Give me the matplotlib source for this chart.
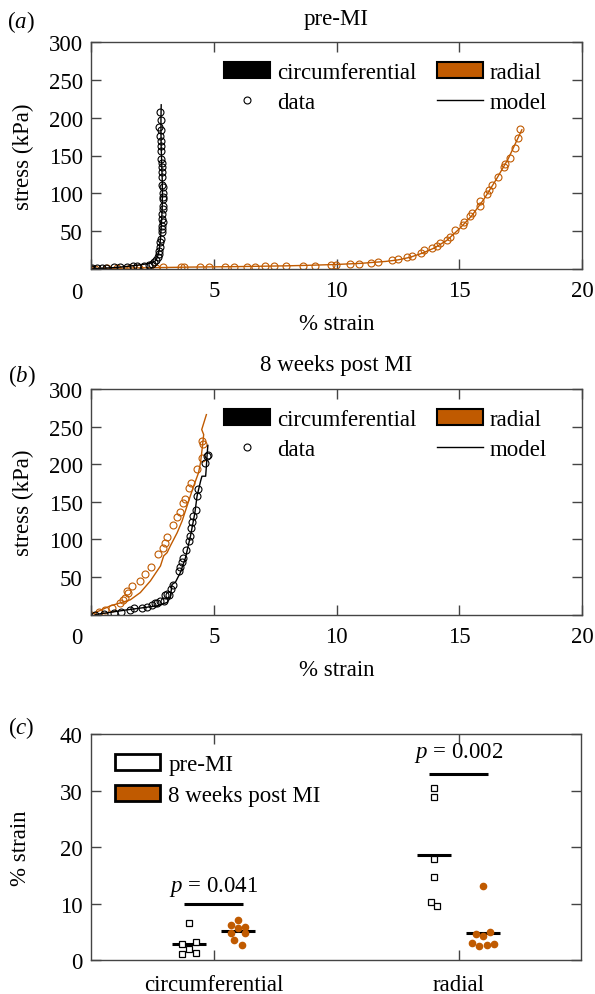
import numpy as np
import matplotlib
matplotlib.use('Agg')
import matplotlib.pyplot as plt
from matplotlib.patches import Patch
from matplotlib.lines import Line2D

plt.rcParams['font.family'] = ['Liberation Serif', 'DejaVu Serif']
plt.rcParams['mathtext.fontset'] = 'custom'
plt.rcParams['mathtext.rm'] = 'Liberation Serif'
plt.rcParams['mathtext.it'] = 'Liberation Serif:italic'
plt.rcParams['font.size'] = 16.5

color_rad = '#C05A00'
color_axis = '#444444'

# (a) pre-MI, circumferential
pre_circ_strain = [0.0, 0.05, 0.25, 0.45, 0.63, 0.95, 1.2, 1.47, 1.7, 1.88, 2.15, 2.35, 2.49,
                   2.58, 2.66, 2.72, 2.76, 2.79, 2.80, 2.83, 2.85, 2.88, 2.89, 2.91, 2.92,
                   2.88, 2.91, 2.92, 2.93, 2.92, 2.95, 2.92, 2.93, 2.89, 2.88, 2.91, 2.91,
                   2.89, 2.87, 2.85, 2.87, 2.84, 2.80, 2.84, 2.77, 2.85, 2.83]
pre_circ_stress = [0.5, 0.9, 1.0, 1.2, 1.8, 2.2, 2.6, 3.1, 3.8, 4.4, 4.6, 5.7, 6.6,
                   8.8, 11.9, 15.4, 19.9, 24.3, 28.7, 35.3, 39.7, 48.5, 52.9, 57.3, 62.6,
                   66.2, 72.8, 79.4, 83.8, 92.6, 94.8, 100.1, 108.1, 111.6, 121.3, 127.9, 134.5,
                   139.8, 145.6, 156.6, 163.2, 169.8, 176.4, 183.1, 187.5, 196.3, 207.3]
pre_circ_model_strain = [0.0, 0.5, 1.0, 1.5, 2.0, 2.4, 2.6, 2.7, 2.78, 2.83, 2.87, 2.9, 2.91,
                         2.9, 2.88, 2.86, 2.85, 2.85, 2.86]
pre_circ_model_stress = [0.0, 1.0, 2.0, 3.5, 5.5, 7.5, 10, 15, 25, 40, 60, 80, 100,
                         120, 140, 160, 180, 200, 217]

# (a) pre-MI, radial
pre_rad_strain = [0.0, 0.15, 0.65, 1.05, 1.6, 1.95, 2.65, 2.95, 3.65, 3.8, 4.45, 4.8, 5.45,
                  5.82, 6.36, 6.67, 7.07, 7.45, 7.96, 8.65, 9.12, 9.78, 9.96, 10.57, 10.91,
                  11.41, 11.68, 12.26, 12.49, 12.87, 13.09, 13.44, 13.55, 13.89, 14.09, 14.23,
                  14.50, 14.63, 14.81, 15.15, 15.20, 15.45, 15.52, 15.83, 15.85, 16.15, 16.20,
                  16.35, 16.56, 16.84, 16.88, 17.06, 17.27, 17.38, 17.49]
pre_rad_stress = [0.5, 0.6, 0.8, 1.0, 1.3, 1.5, 1.8, 2.0, 2.2, 2.2, 2.5, 2.6, 2.8,
                  3.0, 3.1, 3.3, 3.5, 3.8, 4.0, 4.4, 4.4, 5.3, 5.7, 6.2, 6.6,
                  7.9, 8.8, 11.5, 12.8, 15.4, 17.2, 21.2, 24.7, 28.2, 30.9, 34.4,
                  38.8, 42.3, 52.1, 58.2, 61.8, 70.6, 74.5, 83.8, 89.5, 99.3, 105.0,
                  111.6, 122.2, 134.5, 139.0, 146.9, 160.1, 172.9, 184.4]
pre_rad_model_strain = [0, 2, 4, 6, 8, 9, 10, 11, 12, 12.5, 13, 13.5, 14, 14.5, 15, 15.5,
                        16, 16.5, 17, 17.55]
pre_rad_model_stress = [0.5, 1.5, 2.5, 3.2, 4.2, 5.0, 6.0, 7.5, 10, 12, 15.5, 21, 28, 38,
                        53, 70, 92, 118, 146, 184]

# (b) 8 weeks post MI, circumferential
post_circ_strain = [0.18, 0.52, 0.92, 1.24, 1.60, 1.74, 2.08, 2.28, 2.49, 2.60, 2.69, 2.80,
                    2.96, 3.03, 3.10, 3.19, 3.26, 3.32, 3.57, 3.64, 3.71, 3.75, 3.85, 3.98,
                    4.02, 4.06, 4.13, 4.16, 4.27, 4.32, 4.35, 4.63, 4.73, 4.78]
post_circ_stress = [0.0, 0.9, 1.8, 3.5, 6.2, 8.0, 8.8, 10.2, 12.8, 15.9, 15.9, 17.3,
                    18.1, 25.7, 27.9, 25.7, 34.5, 38.9, 58.0, 63.7, 69.9, 75.7, 85.8, 97.8,
                    104.4, 114.6, 123.0, 131.0, 138.9, 157.5, 167.3, 201.8, 211.5, 212.8]
post_circ_model_strain = [0.18, 1.47, 2.69, 3.10, 3.23, 3.30, 3.44, 3.64, 3.85, 4.05, 4.23,
                          4.32, 4.46, 4.52, 4.67, 4.70, 4.73, 4.76]
post_circ_model_stress = [0.0, 6.2, 11.5, 16, 22.6, 40, 43, 55.8, 75.7, 104, 135,
                          157.5, 177, 184, 184, 197, 212.8, 225]

# (b) 8 weeks post MI, radial
post_rad_strain = [0.0, 0.31, 0.58, 0.86, 1.20, 1.30, 1.40, 1.49, 1.47, 1.68, 1.98, 2.21,
                   2.45, 2.72, 2.92, 3.03, 3.10, 3.34, 3.51, 3.64, 3.75, 3.82, 4.00, 4.09,
                   4.32, 4.51, 4.57, 4.53]
post_rad_stress = [0.0, 2.7, 6.2, 9.3, 15.9, 19.5, 22.6, 29.2, 31.4, 38.1, 44.7, 54.4,
                   63.7, 81.0, 88.5, 95.6, 103.1, 118.6, 129.6, 136.3, 147.8, 153.1, 168.6, 174.3,
                   193.8, 208.4, 227.0, 230.5]
post_rad_model_strain = [0.0, 0.79, 1.60, 2.01, 2.42, 2.83, 2.96, 3.10, 3.23, 3.51, 3.71,
                         3.91, 4.18, 4.38, 4.46, 4.54, 4.59, 4.51, 4.70]
post_rad_model_stress = [0.0, 11.5, 19.5, 29.2, 44.7, 64.6, 77.9, 82.3, 91.2, 108.8, 124.3,
                         144.2, 170.8, 188.5, 201.8, 223.9, 239.4, 246.0, 265.9]

# (c) failure strain per group
categories = ['circumferential', 'radial']
circ_pre = [6.6, 2.8, 3.2, 2.0, 1.2, 1.35]
circ_pre_dx = [0.0, -0.03, 0.03, 0.0, -0.03, 0.03]
circ_post = [7.2, 6.25, 5.9, 5.7, 4.9, 4.9, 3.5, 2.7]
circ_post_dx = [0.0, -0.03, 0.03, 0.0, -0.03, 0.03, -0.015, 0.015]
rad_pre = [30.5, 28.8, 17.9, 14.8, 10.35, 9.65]
rad_pre_dx = [0.0, 0.0, 0.0, 0.0, -0.013, 0.013]
rad_post = [13.2, 4.65, 4.95, 4.25, 3.1, 2.6, 2.65, 2.95]
rad_post_dx = [0.0, -0.03, 0.03, 0.0, -0.045, -0.015, 0.015, 0.045]
p_values = ['0.041', '0.002']
sig_heights = [10, 33]
p_text_heights = [13.2, 36.8]

W, H = 595, 995


def style_axes(ax):
    for s in ax.spines.values():
        s.set_color(color_axis)
        s.set_linewidth(1.0)
    ax.tick_params(direction='in', length=7.5, width=1, color=color_axis,
                   top=True, right=True, labelsize=16.5)
    ax.tick_params(axis='x', pad=8)
    ax.tick_params(axis='y', pad=6)


def stress_panel(ax, title, title_off, data):
    (cs, cy, cms, cmy, rs, ry, rms, rmy) = data
    ax.plot(rms, rmy, color=color_rad, lw=1.0)
    ax.plot(rs, ry, 'o', mfc='none', mec=color_rad, ms=5, mew=0.8)
    ax.plot(cms, cmy, color='black', lw=1.0)
    ax.plot(cs, cy, 'o', mfc='none', mec='black', ms=5, mew=0.8)
    ax.set_xlim(0, 20)
    ax.set_ylim(0, 300)
    ax.set_xticks([0, 5, 10, 15, 20])
    ax.set_xticklabels(['', '5', '10', '15', '20'])
    ax.set_yticks([0, 50, 100, 150, 200, 250, 300])
    ax.set_yticklabels(['', '50', '100', '150', '200', '250', '300'])
    style_axes(ax)
    ax.annotate('0', xy=(0, 0), xycoords='axes fraction', xytext=(-6.3, -16.6),
                textcoords='offset points', ha='right', va='center', fontsize=16.5)
    ax.set_xlabel('% strain', va='center')
    ax.xaxis.set_label_coords(0.5, -55 / 227)
    ax.set_ylabel('stress (kPa)', va='center')
    ax.yaxis.set_label_coords(-68 / 491, 0.5)
    ax.text(0.5, 1 + title_off, title, transform=ax.transAxes, ha='center', va='center')
    handles = [Patch(facecolor='black', edgecolor='black', lw=1.5),
               Line2D([], [], marker='o', ls='none', mfc='none', mec='black', ms=5, mew=0.8),
               Patch(facecolor=color_rad, edgecolor='black', lw=1.5),
               Line2D([], [], color='black', lw=1.0)]
    ax.legend(handles, ['circumferential', 'data', 'radial', 'model'], ncol=2,
              loc='upper left', bbox_to_anchor=(0.2715, 0.912), frameon=False,
              borderpad=0, borderaxespad=0, handlelength=2.0, handleheight=0.7,
              handletextpad=0.3, columnspacing=0.9, labelspacing=0.4)


fig = plt.figure(figsize=(W / 100, H / 100), dpi=100)
ax_a = fig.add_axes([91 / W, 1 - 270 / H, 491 / W, 227 / H])
ax_b = fig.add_axes([91 / W, 1 - 615.5 / H, 491 / W, 225.5 / H])
ax_c = fig.add_axes([91 / W, 1 - 961.3 / H, 490 / W, 226.3 / H])

stress_panel(ax_a, 'pre-MI', 23 / 227,
             (pre_circ_strain, pre_circ_stress, pre_circ_model_strain, pre_circ_model_stress,
              pre_rad_strain, pre_rad_stress, pre_rad_model_strain, pre_rad_model_stress))
stress_panel(ax_b, '8 weeks post MI', 25 / 225.5,
             (post_circ_strain, post_circ_stress, post_circ_model_strain, post_circ_model_stress,
              post_rad_strain, post_rad_stress, post_rad_model_strain, post_rad_model_stress))

# panel c
cat_x = np.array([1, 2])
groups = [(circ_pre, circ_pre_dx, cat_x[0] - 0.1, 'pre'),
          (circ_post, circ_post_dx, cat_x[0] + 0.1, 'post'),
          (rad_pre, rad_pre_dx, cat_x[1] - 0.1, 'pre'),
          (rad_post, rad_post_dx, cat_x[1] + 0.1, 'post')]
for vals, dx, xc, kind in groups:
    xs = xc + np.array(dx)
    if kind == 'pre':
        ax_c.plot(xs, vals, 's', mfc='white', mec='black', ms=4, mew=0.9, zorder=3)
    else:
        ax_c.plot(xs, vals, 'o', mfc=color_rad, mec=color_rad, ms=4.5, zorder=3)
    ax_c.hlines(np.mean(vals), xc - 0.07, xc + 0.07, color='black', lw=2.2, zorder=2)

for xc, h, th, p in zip(cat_x, sig_heights, p_text_heights, p_values):
    ax_c.hlines(h, xc - 0.12, xc + 0.12, color='black', lw=2.2)
    ax_c.text(xc, th, r'$p$ = ' + p, ha='center', va='center', fontsize=16.5)

ax_c.set_xlim(0.5, 2.5)
ax_c.set_ylim(0, 40)
ax_c.set_xticks(cat_x)
ax_c.set_xticklabels(categories)
ax_c.set_yticks([0, 10, 20, 30, 40])
style_axes(ax_c)
ax_c.tick_params(axis='x', pad=10)
ax_c.set_ylabel('% strain', va='center')
ax_c.yaxis.set_label_coords(-70 / 490, 0.5)
handles_c = [Patch(facecolor='white', edgecolor='black', lw=2),
             Patch(facecolor=color_rad, edgecolor='black', lw=2)]
ax_c.legend(handles_c, ['pre-MI', '8 weeks post MI'], loc='upper left',
            bbox_to_anchor=(0.048, 0.912), frameon=False, borderpad=0, borderaxespad=0,
            handlelength=2.0, handleheight=0.7, handletextpad=0.35, labelspacing=0.45)

fig.text(21 / W, 1 - 22 / H, r'($a$)', ha='center', va='center')
fig.text(22 / W, 1 - 376 / H, r'($b$)', ha='center', va='center')
fig.text(21 / W, 1 - 728 / H, r'($c$)', ha='center', va='center')

fig.savefig('out.png', dpi=100)
